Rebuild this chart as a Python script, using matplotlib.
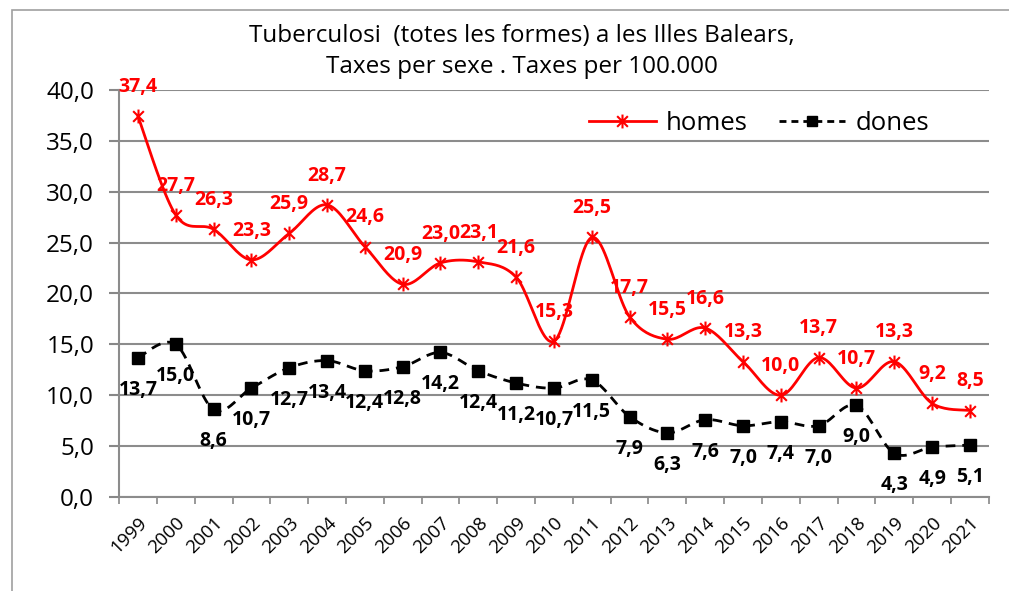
import numpy as np
import matplotlib
matplotlib.use("Agg")
from matplotlib import pyplot as plt
from matplotlib.path import Path
from matplotlib.lines import Line2D
from matplotlib.patches import Rectangle

years = [str(y) for y in range(1999, 2022)]
homes = [37.4, 27.7, 26.3, 23.3, 25.9, 28.7, 24.6, 20.9, 23.0, 23.1, 21.6, 15.3,
         25.5, 17.7, 15.5, 16.6, 13.3, 10.0, 13.7, 10.7, 13.3, 9.2, 8.5]
dones = [13.7, 15.0, 8.6, 10.7, 12.7, 13.4, 12.4, 12.8, 14.2, 12.4, 11.2, 10.7,
         11.5, 7.9, 6.3, 7.6, 7.0, 7.4, 7.0, 9.0, 4.3, 4.9, 5.1]
title = "Tuberculosi  (totes les formes) a les Illes Balears,\nTaxes per sexe . Taxes per 100.000"

plt.rcParams['font.family'] = ['Open Sans', 'DejaVu Sans']


def smooth(x, y, n=20):
    # excel-like smoothing (bezier / catmull-rom)
    x = np.asarray(x, float); y = np.asarray(y, float)
    P = np.column_stack([x, y])
    out = []
    for i in range(len(P) - 1):
        p0 = P[i - 1] if i > 0 else P[i]
        p1 = P[i]; p2 = P[i + 1]
        p3 = P[i + 2] if i + 2 < len(P) else P[i + 1]
        c1 = p1 + (p2 - p0) / 6.0
        c2 = p2 - (p3 - p1) / 6.0
        t = np.linspace(0, 1, n, endpoint=False)[:, None]
        seg = (1 - t)**3 * p1 + 3 * (1 - t)**2 * t * c1 + 3 * (1 - t) * t**2 * c2 + t**3 * p2
        out.append(seg)
    out.append(P[-1:])
    out = np.vstack(out)
    return out[:, 0], out[:, 1]


star = Path([(-1, -1), (1, 1), (-1, 1), (1, -1), (0, -1.3), (0, 1.3)],
            [Path.MOVETO, Path.LINETO, Path.MOVETO, Path.LINETO, Path.MOVETO, Path.LINETO])

fig = plt.figure(figsize=(10.09, 5.91), dpi=100)
fig.patches.append(Rectangle((0.012, -0.1), 1.2, 1.083, transform=fig.transFigure,
                             fill=False, edgecolor='#a0a0a0', linewidth=1.2))
ax = fig.add_axes([0.118, 0.159, 0.862, 0.689])

x = np.arange(len(years))
sx, sy = smooth(x, homes)
ax.plot(sx, sy, color='red', linewidth=2, zorder=3)
ax.plot(x, homes, linestyle='none', marker=star, markersize=10, markeredgewidth=1.5,
        color='red', zorder=4)
dx, dy = smooth(x, dones)
ax.plot(dx, dy, color='black', linewidth=2, linestyle=(0, (3.5, 2.5)), zorder=3)
ax.plot(x, dones, linestyle='none', marker='s', markersize=8, color='black', zorder=4)

for i in range(len(years)):
    ax.annotate(f"{homes[i]:.1f}".replace('.', ','), (x[i], homes[i]), xytext=(0, 21),
                textcoords='offset points', ha='center', va='center',
                color='red', fontsize=14, fontweight='bold')
    ax.annotate(f"{dones[i]:.1f}".replace('.', ','), (x[i], dones[i]), xytext=(0, -23),
                textcoords='offset points', ha='center', va='center',
                color='black', fontsize=14, fontweight='bold')

ax.set_xlim(-0.5, len(years) - 0.5)
ax.set_ylim(0, 40)
ax.set_yticks(np.arange(0, 41, 5))
ax.set_yticklabels([f"{v:.1f}".replace('.', ',') for v in np.arange(0, 41, 5)], fontsize=17.5)
ax.set_xticks(x)
ax.set_xticklabels(years, rotation=45, fontsize=13.5, ha='right', rotation_mode='anchor')
ax.set_xticks(np.arange(-0.5, len(years), 1), minor=True)
ax.tick_params(axis='x', which='major', length=0, pad=12)
ax.tick_params(axis='x', which='minor', length=5, color='#888888', width=1.2)
ax.tick_params(axis='y', length=7, color='#888888', width=1.5, pad=11)
ax.yaxis.grid(True, color='#8c8c8c', linewidth=1.5)
ax.set_axisbelow(True)
for s in ['top', 'right']:
    ax.spines[s].set_visible(False)
for s in ['left', 'bottom']:
    ax.spines[s].set_color('#8c8c8c')
    ax.spines[s].set_linewidth(1.5)

h1 = Line2D([], [], color='red', linewidth=2, marker=star, markersize=10, markeredgewidth=1.5)
h2 = Line2D([], [], color='black', linewidth=2, linestyle=(0, (2.5, 1.8)), marker='s', markersize=7)
ax.legend([h1, h2], ['homes', 'dones'], loc='center left', bbox_to_anchor=(0.54, 0.917),
          ncol=2, frameon=False, fontsize=18.5, handlelength=2.6, columnspacing=1.2,
          handletextpad=0.4, borderaxespad=0, borderpad=0)

fig.text(0.517, 0.913, title, ha='center', va='center', fontsize=17.5, linespacing=1.42)

fig.savefig('out.png', dpi=100)
